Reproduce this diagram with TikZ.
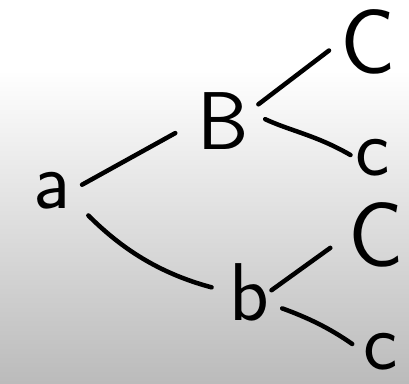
\documentclass[tikz,border=0pt]{standalone}
\usepackage{tikz}
\usetikzlibrary{arrows.meta,positioning,calc}
\definecolor{boardgray}{RGB}{187,187,187}

\tikzset{
  letter/.style={inner sep=0pt,font=\fontsize{82}{82}\selectfont\sffamily},
  bigletter/.style={letter,font=\fontsize{92}{92}\selectfont\sffamily},
  branch/.style={line width=4.5pt,line cap=round,black},
}

\begin{document}
\begin{tikzpicture}[x=1pt,y=-1pt]
  \useasboundingbox (0,0) rectangle (409,383);
  % ---- board: white top, grey fade below ----
  \fill[white] (0,0) rectangle (409,70);
  \shade[top color=white,bottom color=boardgray] (0,70) rectangle (409,383);
  % ---- letters ----
  \node[letter] (a)  at (52,191)  {a};
  \node[letter] (B)  at (223,121) {B};
  \node[letter] (b)  at (249,292) {b};
  \node[bigletter] (BC) at (368,42)  {C};
  \node[letter] (Bc) at (373,158) {c};
  \node[bigletter] (bC) at (376,235) {C};
  \node[letter] (bc) at (381,352) {c};
  % ---- first split ----
  \draw[branch,shorten <=13pt,shorten >=25pt] (a.east) -- (B.west);
  \draw[branch,shorten <=25pt,shorten >=18pt]
       (a.-20) to[out=-45,in=165] (b.west);
  % ---- second split, upper ----
  \draw[branch,shorten <=12pt,shorten >=14pt] (B.20) -- (BC.west);
  \draw[branch,shorten <=18pt,shorten >=6pt]
       (B.20) to[out=-25,in=150] (Bc.west);
  % ---- second split, lower ----
  \draw[branch,shorten <=3pt,shorten >=22pt] (b.east) -- (bC.west);
  \draw[branch,shorten <=14pt,shorten >=14pt]
       (b.-30) to[out=-20,in=145] (bc.west);
\end{tikzpicture}
\end{document}
